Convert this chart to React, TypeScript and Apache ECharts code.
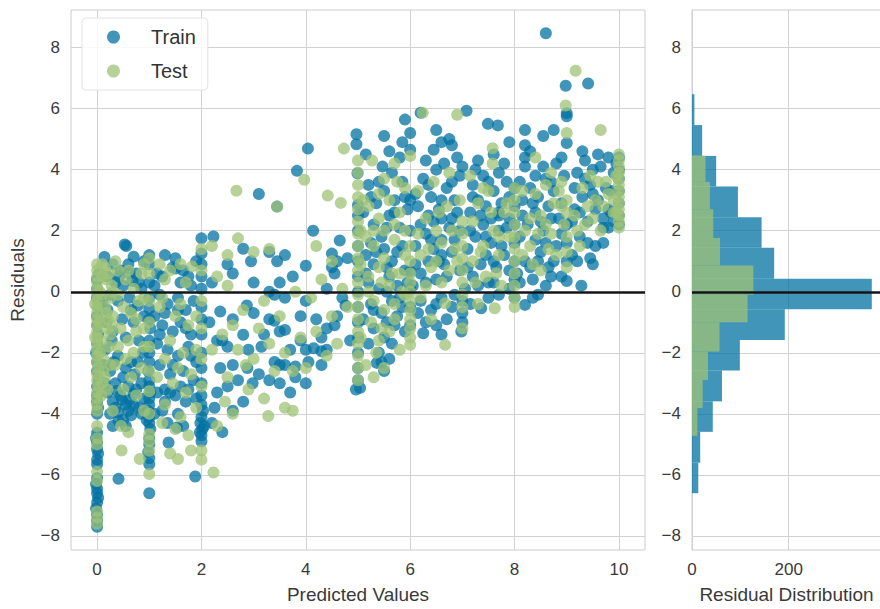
import React, { useEffect, useRef } from "react";
import * as echarts from "echarts";

// ---------- data ----------
const xTicks = [0, 2, 4, 6, 8, 10];
const yTicks = [-8, -6, -4, -2, 0, 2, 4, 6, 8];
const histTicks = [0, 200];

const trainPoints: number[][] = [
  // x = 0 stripe
  [0,-7.7],[0,-7.5],[0,-7.3],[-0.02,-7.1],[0,-6.9],[0.02,-6.75],[0,-6.6],[0,-6.45],[-0.02,-6.3],[0,-6.1],[0,-5.65],[0,-5.5],[0.02,-5.3],[0,-5.15],[0,-4.95],[-0.02,-4.8],[0,-4.62],[0,-4.0],[0.02,-3.8],[0,-3.6],[0,-3.4],[0,-3.1],[0.03,-2.9],[0,-2.6],[0,-2.3],[-0.02,-2.0],[0,-1.7],[0.02,-1.4],[0,-1.1],[0,-0.8],[0.03,-0.5],[0,-0.2],[0,0.1],[0,0.4],[0.04,0.6],
  // 0 < x < 1
  [0.14,1.14],[0.56,1.5],[0.3,0.9],[0.45,0.7],[0.6,0.9],[0.75,0.6],[0.9,1.0],[0.35,0.3],[0.5,0.2],[0.68,0.35],[0.85,0.1],[0.25,-0.1],[0.4,-0.3],[0.62,-0.2],[0.78,-0.45],[0.2,-0.6],[0.48,-0.9],[0.7,-1.0],[0.9,-0.8],[0.3,-1.3],[0.55,-1.5],[0.8,-1.6],[0.15,-1.9],[0.4,-2.1],[0.65,-2.3],[0.88,-2.0],[0.25,-2.6],[0.5,-2.8],[0.72,-2.7],[0.35,-3.0],[0.6,-3.1],[0.85,-3.0],[0.2,-3.3],[0.45,-3.4],[0.7,-3.35],[0.9,-3.5],[0.3,-3.6],[0.55,-3.7],[0.8,-3.8],[0.4,-3.95],[0.65,-4.05],[0.5,-4.2],[0.25,-4.0],[0.95,-4.2],[0.41,-4.23],[0.41,-6.13],[0.62,-3.55],[0.75,-3.2],[0.38,-3.25],
  [0.1,-0.3],[0.18,-1.0],[0.28,-1.6],[0.12,-2.4],[0.32,-2.3],[0.55,-2.5],[0.78,-2.3],[0.35,-3.8],[0.6,-3.9],[0.85,-4.0],[0.48,-3.55],[0.7,-3.7],[0.55,-4.4],[0.3,-4.4],[0.15,-3.0],[0.65,-0.6],[0.42,0.5],[0.7,1.15],[0.2,0.5],[0.62,0.6],[0.8,0.3],
  // x = 1 stripe
  [1,-6.6],[1,-5.65],[1,-5.45],[0.98,-5.25],[1,-5.0],[1,-4.8],[1.02,-4.5],[1,-4.3],[1,-4.1],[0.98,-3.9],[1,-3.7],[1,-3.5],[1.02,-3.3],[1,-3.1],[1,-2.9],[0.98,-2.6],[1,-2.3],[1,-2.0],[1,-1.6],[1.02,-1.2],[1,-0.9],[1,-0.55],[1,-0.2],[1,0.3],[1,0.9],[1.0,1.2],
  // 1 < x < 2
  [1.15,0.6],[1.3,1.2],[1.45,0.8],[1.6,0.3],[1.75,0.5],[1.9,1.0],[1.2,-0.1],[1.35,-0.4],[1.55,-0.2],[1.7,-0.6],[1.85,-0.3],[1.1,-0.8],[1.25,-1.1],[1.45,-1.3],[1.6,-1.0],[1.8,-1.4],[1.15,-1.7],[1.35,-1.9],[1.55,-2.1],[1.75,-1.8],[1.9,-2.3],[1.2,-2.4],[1.4,-2.7],[1.65,-2.6],[1.85,-2.9],[1.3,-3.2],[1.4,-3.3],[1.5,-3.4],[1.7,-3.6],[1.55,-4.0],[1.35,-4.3],[1.53,-4.45],[1.37,-4.94],[1.51,0.76],[0.53,1.55],
  [1.1,0.2],[1.25,0.5],[1.5,1.1],[1.65,0.7],[1.8,0.2],[1.3,-0.7],[1.55,-0.6],[1.7,-1.2],[1.2,-1.4],[1.45,-2.4],[1.8,-2.1],[1.15,-3.3],[1.3,-3.6],[1.6,-3.1],[1.75,-3.2],[1.1,-4.0],[1.25,-3.9],[1.9,-3.5],[1.65,-4.4],
  // x = 2 stripe
  [2,-4.9],[2,-4.7],[2.02,-4.5],[1.98,-4.3],[2,-4.1],[2.03,-3.9],[2,-3.7],[1.97,-4.6],[2.05,-4.4],[2,-3.4],[2,-3.0],[2,-2.5],[2,-2.0],[2,-1.4],[2,-0.9],[2,-0.5],[2,0.1],[2,0.5],[2,0.9],[2,1.25],[2,1.75],[1.88,-6.05],
  // 2 < x < 4
  [2.36,-0.65],[2.3,-1.6],[2.4,-1.6],[2.5,-1.8],[2.36,-2.5],[2.8,-1.41],[2.87,-0.45],[2.6,-2.4],[2.88,-2.5],[2.98,-3.0],[2.5,-3.1],[2.6,-3.9],[2.8,-3.6],[3.3,-0.9],[3.4,-0.95],[3.4,-2.3],[3.5,-2.4],[3.7,-3.3],[3.6,-2.4],[3.8,-2.45],[3.5,-1.3],[3.6,-1.25],[3.9,-0.8],[3.9,-1.6],[4.0,-3.0],[4.05,-2.3],[3.0,0.3],[3.3,0.0],[3.4,-0.1],[2.23,1.81],[2.8,1.41],[3.3,1.3],[3.45,1.0],[3.6,1.2],[4.0,0.85],[4.14,2.0],[3.1,3.2],[3.45,2.79],[3.83,3.96],[4.04,4.69],[3.6,-0.2],[2.2,0.3],[2.6,0.6],[3.15,-1.8],
  [2.15,-1.0],[2.25,-3.8],[2.2,-4.3],[2.4,-4.6],[2.3,-3.3],[2.7,-2.9],[3.1,-2.7],[3.3,-2.9],[2.9,-1.9],[3.2,-1.4],[3.0,-0.7],[2.6,-0.9],[3.7,-1.9],[3.8,-2.8],[3.5,-3.0],[2.5,0.9],[3.75,0.5],[3.5,0.3],[2.95,1.0],
  // 4 < x < 5
  [4.0,-0.3],[4.2,-0.9],[4.3,-1.5],[4.4,-1.2],[4.0,-1.9],[4.15,-1.85],[4.3,-1.95],[4.55,-1.1],[4.6,-0.8],[4.3,-2.4],[4.4,-1.9],[4.76,-0.45],[4.96,-3.2],[4.65,1.68],[4.5,0.8],[4.55,0.6],[4.5,1.25],[4.6,1.0],[4.8,1.1],[4.4,0.1],[4.7,-0.2],[4.85,-1.6],
  // x = 5 stripe
  [4.97,5.16],[4.97,4.83],[4.99,3.88],[5.0,2.84],[5,2.5],[5,2.0],[5,1.5],[5,1.0],[5,0.5],[5,0],[5,-0.5],[5,-1.0],[5,-1.5],[5,-2.0],[5,-2.5],[5,-2.9],[5.04,-3.15],
  // 5 < x < 6
  [5.2,3.5],[5.35,2.9],[5.5,3.3],[5.7,3.0],[5.85,3.6],[5.3,2.2],[5.45,1.8],[5.6,2.5],[5.8,2.1],[5.95,2.7],[5.15,1.2],[5.3,0.9],[5.5,1.4],[5.65,1.0],[5.85,1.5],[5.2,0.3],[5.4,0.1],[5.6,0.5],[5.75,0.2],[5.9,0.7],[5.25,-0.4],[5.45,-0.7],[5.65,-0.3],[5.85,-0.5],[5.3,-1.2],[5.5,-1.5],[5.7,-1.1],[5.9,-1.3],[5.4,-2.0],[5.6,-2.2],[5.36,-2.33],[5.5,-2.6],[5.47,4.1],[5.5,5.1],[5.9,5.64],[5.8,4.4],[5.65,3.9],[5.25,1.6],[5.55,0.0],[5.75,-0.8],
  [5.1,2.6],[5.25,3.1],[5.4,3.6],[5.55,2.1],[5.7,2.6],[5.9,3.1],[5.15,0.6],[5.35,1.3],[5.55,0.8],[5.75,1.3],[5.95,0.3],[5.1,-0.9],[5.3,-0.6],[5.55,-1.0],[5.8,-0.2],[5.2,-1.7],[5.45,-2.3],[5.65,-1.7],[5.15,4.5],[5.6,4.6],[5.85,4.9],
  // x = 6 stripe
  [6,0.66],[6,0.1],[6,-0.5],[6,-1.1],[6,2.0],[6,3.0],[6.0,5.2],[6.0,4.65],
  // 6 < x < 7
  [6.05,0.2],[6.2,0.6],[6.35,1.0],[6.5,0.4],[6.65,0.9],[6.8,1.3],[6.1,1.5],[6.3,1.9],[6.45,2.3],[6.6,1.7],[6.75,2.1],[6.9,2.6],[6.15,2.8],[6.4,3.1],[6.55,2.7],[6.7,3.4],[6.85,3.0],[6.25,3.7],[6.5,4.0],[6.95,3.8],[6.2,-0.3],[6.4,-0.6],[6.6,-0.2],[6.8,-0.5],[6.3,-1.0],[6.5,-1.1],[6.7,-0.9],[6.25,-1.36],[6.2,5.86],[6.5,5.3],[6.6,4.9],[6.75,5.0],[6.8,4.8],[6.45,4.65],[6.35,2.5],[6.6,1.2],
  [6.1,0.9],[6.3,0.3],[6.45,1.4],[6.55,1.0],[6.7,0.5],[6.85,1.7],[6.95,0.7],[6.2,2.2],[6.4,1.7],[6.6,2.4],[6.8,2.4],[6.95,2.0],[6.1,3.2],[6.35,3.5],[6.6,3.0],[6.8,3.6],[6.3,4.3],[6.65,4.2],[6.9,4.4],[6.15,-0.7],[6.5,-0.4],[6.85,-0.1],[6.6,-1.4],
  // x = 7 stripe and 7 < x < 8
  [7.0,-0.3],[7.0,-0.7],[7.0,-1.0],[6.98,-1.3],[7.05,0.1],[7.2,0.5],[7.35,0.9],[7.5,0.3],[7.65,0.8],[7.8,1.2],[7.1,1.4],[7.25,1.8],[7.4,2.2],[7.55,1.6],[7.7,2.0],[7.9,2.4],[7.15,2.6],[7.3,3.0],[7.45,2.8],[7.6,3.3],[7.75,2.9],[7.2,3.5],[7.4,3.8],[7.85,3.6],[7.08,5.93],[7.49,5.5],[7.68,5.45],[7.9,4.9],[7.0,4.1],[7.3,4.3],[7.36,-0.54],[7.6,0.3],[7.5,-0.2],[7.45,1.2],[7.7,2.5],
  [7.1,0.8],[7.3,0.2],[7.45,1.8],[7.6,1.0],[7.75,1.5],[7.9,0.7],[7.15,2.0],[7.35,2.5],[7.55,2.4],[7.7,2.6],[7.85,2.1],[7.2,3.1],[7.5,3.6],[7.7,3.9],[7.9,3.1],[7.25,4.0],[7.6,4.5],[7.8,4.2],[7.15,-0.4],[7.7,-0.1],[7.9,0.1],
  // x = 8 stripe and 8 < x < 9
  [8,3.4],[8,2.8],[8,2.2],[8,1.6],[8,1.0],[8,0.4],[8,-0.2],
  [8.05,0.6],[8.2,1.0],[8.35,0.4],[8.5,1.3],[8.65,0.8],[8.8,1.5],[8.1,1.8],[8.25,2.2],[8.4,2.6],[8.55,2.0],[8.7,2.4],[8.9,2.9],[8.15,3.0],[8.3,3.4],[8.45,3.1],[8.6,3.7],[8.75,3.3],[8.95,3.8],[8.2,4.4],[8.2,4.8],[8.2,4.1],[8.2,-0.43],[8.35,-0.2],[8.6,0.2],[8.9,0.5],[8.2,5.3],[8.6,8.47],[8.75,5.3],[8.8,4.2],[8.4,1.7],
  [8.1,0.3],[8.3,0.8],[8.45,1.0],[8.6,1.6],[8.75,1.0],[8.9,1.9],[8.15,2.5],[8.35,2.9],[8.5,2.3],[8.65,2.8],[8.85,2.4],[8.1,3.6],[8.4,3.8],[8.55,4.1],[8.7,3.6],[8.9,4.4],[8.3,4.6],[8.45,-0.1],[8.7,0.5],[8.55,5.1],
  // x = 9 stripe and 9 < x < 10
  [8.98,6.75],[9.0,5.85],[9.0,5.75],[9.0,4.87],[9.0,0.35],[9.0,1.0],[9.0,1.6],[9.0,2.2],
  [9.1,1.2],[9.25,1.8],[9.4,2.3],[9.55,1.5],[9.7,2.1],[9.85,2.6],[9.15,2.7],[9.3,3.1],[9.45,3.5],[9.6,3.0],[9.75,3.4],[9.9,3.9],[9.2,3.9],[9.35,4.3],[9.5,4.0],[9.41,6.82],[9.28,0.2],[9.5,0.9],[9.8,4.4],[9.8,2.7],[9.8,2.1],
  [9.1,2.3],[9.25,2.6],[9.4,1.6],[9.55,2.7],[9.7,1.6],[9.9,2.3],[9.15,3.4],[9.35,3.7],[9.5,3.2],[9.65,4.1],[9.85,3.3],[9.3,4.6],[9.6,4.5],[9.2,1.0],[9.45,1.1],[9.7,2.4],[9.95,4.2],
  // x = 10 stripe
  [10,2.5],[10,3.3],[10,4.0],[10,2.2],[10,3.7],[10,4.4],[10,2.9]
];

const testPoints: number[][] = [
  // x = 0 stripe
  [0,-7.6],[0,-7.4],[0,-7.2],[0,-6.2],[0,-5.9],[0,-5.0],[0,-4.8],[0,-4.4],[0,-3.9],[0,-3.7],[0,-3.5],[0,-3.3],[0.02,-3.1],[0,-2.9],[0,-2.7],[0.02,-2.5],[0,-2.3],[0,-2.1],[0,-1.9],[0,-1.7],[0,-1.5],[0,-1.3],[0,-1.1],[0,-0.9],[0,-0.7],[0,-0.5],[0,-0.3],[0,-0.1],[0,0.1],[0,0.3],[0,0.5],[0,0.7],[0,0.9],[0.05,-2.0],[0.05,-1.0],[0.05,0.0],[-0.04,-1.5],[-0.04,-0.4],
  [0.15,-0.5],[0.2,-1.2],[0.25,-0.2],[0.18,0.4],[0.3,-0.8],[0.12,-2.2],[0.22,-1.8],[0.28,0.2],[0.1,-3.0],[0.15,0.8],[0.12,-2.6],[0.2,-0.9],
  [0.1,-0.1],[0.18,-0.7],[0.25,-1.4],[0.08,-1.6],[0.3,0.0],[0.22,0.6],[0.1,0.5],[0.28,-1.1],[0.15,-2.8],[0.25,-2.4],[0.08,-3.4],[0.2,-3.2],[0.1,0.9],
  // 0 < x < 1
  [0.4,0.7],[0.55,0.4],[0.7,0.1],[0.85,0.6],[0.5,-0.5],[0.65,-0.7],[0.8,-0.3],[0.45,-1.2],[0.6,-1.6],[0.75,-1.3],[0.9,-1.8],[0.35,-2.4],[0.7,-2.0],[0.85,-2.5],[0.5,-3.2],[0.75,-3.4],[0.46,-4.4],[0.47,-5.2],[0.82,-5.48],[0.3,-3.9],[0.6,-4.6],[0.9,-3.9],
  [0.4,-0.1],[0.6,0.7],[0.75,-0.9],[0.55,-2.2],[0.9,-1.2],[0.4,-1.8],[0.65,-2.8],[0.9,-0.2],[0.35,1.0],[0.9,0.9],
  // x = 1 stripe
  [1,1.1],[1,0.6],[1,-0.3],[1,-1.0],[1,-1.8],[1,-2.6],[1,-3.26],[1,-4.0],[1,-4.67],[1,-5.21],[1,-5.97],[1,-4.9],
  // 1 < x < 2
  [1.3,0.4],[1.6,0.9],[1.82,0.83],[1.2,-0.5],[1.5,-0.8],[1.75,-1.1],[1.4,-1.6],[1.65,-2.0],[1.3,-2.2],[1.55,-2.5],[1.8,-2.7],[1.45,-3.0],[1.7,-3.3],[1.3,-3.7],[1.6,-4.1],[1.9,-3.8],[1.5,-4.5],[1.8,-5.2],[1.55,-5.48],
  [1.2,0.9],[1.4,0.7],[1.7,0.3],[1.25,-0.2],[1.6,-0.4],[1.9,-0.8],[1.15,-2.8],[1.9,-1.9],[1.25,-4.3],[1.4,-5.3],[1.75,-4.7],
  // x = 2 stripe
  [2,1.4],[2,0.7],[2,-0.3],[2,-1.2],[2,-2.2],[2,-3.1],[2,-5.2],[2,-5.5],[2.23,-5.92],
  // 2 < x < 4
  [2.67,3.31],[2.7,1.75],[3.3,1.4],[3.0,1.3],[2.3,0.5],[2.5,0.2],[2.8,-0.6],[3.2,-0.3],[3.5,-0.8],[3.8,0.0],[2.4,-1.4],[2.7,-1.9],[3.0,-2.2],[3.3,-1.7],[3.6,-2.0],[3.9,-1.5],[2.5,-2.8],[2.9,-3.2],[3.2,-3.5],[3.6,-3.8],[2.6,-4.0],[2.3,-4.4],[2.45,-3.6],[3.75,-3.9],[3.28,-4.07],[3.97,3.67],[3.45,2.79],
  [2.2,1.5],[2.5,1.2],[2.2,-1.9],[2.6,-1.1],[2.85,-2.4],[3.1,-1.2],[3.4,-2.6],[3.75,-2.6],
  // 4 < x < 5
  [4.73,4.69],[4.42,3.15],[4.67,2.91],[4.1,-0.2],[4.3,0.4],[4.5,-0.8],[4.7,0.1],[4.2,-1.3],[4.6,-1.7],[4.4,-2.1],[4.0,-2.5],[4.8,-0.5],[4.5,1.0],[4.2,1.5],
  // x = 5 stripe
  [5,4.3],[5,3.9],[5,3.5],[5,3.1],[5,2.7],[5,2.3],[5,1.9],[5,1.5],[5,1.1],[5,0.7],[5,0.3],[5,-0.1],[5,-0.5],[5,-0.9],[5,-1.3],[5,-1.7],[5,-2.1],[5,-2.5],[5,-2.9],[5.05,0.9],[5.05,-1.5],[5.05,2.0],
  // 5 < x < 6
  [5.27,4.3],[5.2,2.8],[5.4,2.4],[5.6,3.0],[5.8,2.6],[5.3,1.5],[5.5,1.1],[5.7,1.7],[5.9,1.2],[5.2,0.5],[5.4,0.8],[5.6,0.2],[5.8,0.6],[5.3,-0.3],[5.5,-0.6],[5.7,-0.9],[5.9,-0.1],[5.4,-1.6],[5.6,-1.3],[5.35,-2.0],[5.8,-1.9],[5.3,-2.8],[5.9,3.4],[5.5,3.7],[5.7,4.2],[5.1,3.0],
  [5.15,1.8],[5.3,2.0],[5.5,2.0],[5.7,2.2],[5.9,2.0],[5.2,0.0],[5.45,0.3],[5.65,0.6],[5.85,0.0],[5.25,-1.0],[5.45,-1.2],[5.7,-0.4],[5.15,-2.4],[5.5,-2.5],[5.4,3.2],[5.75,3.6],
  // x = 6 stripe
  [6,0.6],[6,0.3],[6,0],[6,-0.3],[6,-0.6],[6,-0.9],[6,-1.2],[6,-1.5],[6,-1.74],[6,4.45],[6,1.0],[6,1.5],
  // 6 < x < 7
  [6.24,5.86],[6.9,5.8],[6.2,1.2],[6.4,0.8],[6.6,1.6],[6.8,2.0],[6.3,2.4],[6.5,2.0],[6.7,2.8],[6.9,1.0],[6.15,3.3],[6.45,3.6],[6.75,3.9],[6.6,0.3],[6.67,-0.38],[6.67,-1.74],[6.4,-0.9],[6.2,-0.2],
  [6.15,1.9],[6.35,1.4],[6.55,2.6],[6.85,1.4],[6.3,0.2],[6.5,1.0],[6.75,0.7],[6.95,3.0],
  // x = 7 stripe and 7 < x < 8
  [7,2.3],[7,1.9],[7,1.5],[7,1.1],[7,0.7],[7,0.3],[7,-0.1],[7,-0.5],[7,-1.2],[7.3,-0.4],[7.62,-0.54],
  [7.58,4.7],[7.58,4.2],[7.2,1.0],[7.4,1.5],[7.6,2.0],[7.8,2.6],[7.3,2.9],[7.5,3.3],[7.7,1.2],[7.9,1.8],[7.15,3.8],[7.45,0.5],[7.75,0.2],
  [7.2,2.3],[7.35,1.3],[7.55,2.6],[7.7,1.8],[7.85,2.9],[7.25,0.3],[7.65,0.6],[7.4,3.4],
  // x = 8 stripe and 8 < x < 9
  [8,3.4],[8,3.0],[8,2.6],[8,2.2],[8,1.8],[8,1.4],[8,1.0],[8,0.6],[8,0.2],[8,-0.2],[8,-0.5],
  [8.4,4.4],[8.7,3.9],[8.3,1.5],[8.5,2.5],[8.7,1.9],[8.9,2.8],[8.4,3.2],[8.6,3.5],[8.2,2.0],[8.8,1.2],[8.5,0.7],[8.9,3.6],
  [8.15,1.2],[8.3,2.4],[8.45,1.9],[8.6,2.2],[8.75,2.9],[8.15,3.3],[8.35,0.9],[8.65,1.4],[8.85,3.3],[8.95,2.2],
  // x = 9 stripe and 9 < x < 10
  [8.98,6.1],[9.0,5.2],[9,3.0],[9,2.6],[9,1.8],[9,1.3],[9,0.8],
  [9.17,7.24],[9.65,5.3],[9.2,2.0],[9.4,2.8],[9.6,3.6],[9.8,3.2],[9.3,3.4],[9.5,2.4],[9.7,2.8],[9.9,3.0],
  [9.15,2.5],[9.35,2.2],[9.55,3.0],[9.75,3.6],[9.9,2.6],[9.25,1.5],[9.45,3.8],[9.65,2.0],
  // x = 10 stripe
  [10,4.5],[10,4.3],[10,4.1],[10,3.9],[10,3.7],[10,3.5],[10,3.3],[10,3.1],[10,2.9],[10,2.7],[10,2.5],[10,2.3],[10,2.1],[9.95,3.8],[9.95,2.6]
];

// histogram bins (residual edges) and counts
const trainBinEdges = [-6.6, -5.6, -4.59, -3.59, -2.58, -1.58, -0.57, 0.43, 1.44, 2.44, 3.45, 4.45, 5.46, 6.47];
const trainCounts = [13, 17, 43, 62, 99, 192, 372, 170, 144, 95, 50, 21, 5];
const testBinEdges = [-4.72, -3.81, -2.89, -1.96, -1.0, -0.1, 0.86, 1.76, 2.7, 3.6, 4.46];
const testCounts = [11, 22, 33, 57, 115, 127, 58, 44, 37, 28];

// ---------- styling ----------
const TRAIN_COLOR = "#0272a2";
const TEST_COLOR = "#9fc377";
const FONT = "'Liberation Sans', Arial, sans-serif";
const LABEL_COLOR = "#3a3a3a";
const GRID_COLOR = "#d2d2d2";

const fmt = (v: number) => (v < 0 ? "\u2212" + Math.abs(v) : String(v));

function binsToData(edges: number[], counts: number[]) {
  return counts.map((c, i) => [edges[i], edges[i + 1], c]);
}

export default function App() {
  const ref = useRef<HTMLDivElement>(null);

  useEffect(() => {
    if (!ref.current) return;
    const chart = echarts.init(ref.current, undefined, { renderer: "svg" });

    const yAxisCommon = (gridIndex: number) => ({
      type: "value",
      gridIndex,
      min: -8.46,
      max: 9.23,
      axisLine: { show: false },
      axisTick: { show: false, customValues: yTicks },
      axisLabel: {
        customValues: yTicks,
        formatter: fmt,
        color: LABEL_COLOR,
        fontSize: 17,
        fontFamily: FONT,
        margin: 11,
      },
      splitLine: { show: true, lineStyle: { color: GRID_COLOR, width: 1 } },
    });

    const histRender = (color: string) => (params: any, api: any) => {
      const lo = api.value(0);
      const hi = api.value(1);
      const c = api.value(2);
      const p1 = api.coord([0, hi]);
      const p2 = api.coord([c, lo]);
      return {
        type: "rect",
        shape: { x: p1[0], y: p1[1], width: p2[0] - p1[0], height: p2[1] - p1[1] },
        style: { fill: color, opacity: 0.75 },
      };
    };

    const zeroLine = {
      silent: true,
      symbol: "none",
      label: { show: false },
      lineStyle: { color: "#151515", width: 2.6, type: "solid" },
      data: [{ yAxis: 0 }],
    };

    const xName = { fontSize: 19, color: LABEL_COLOR, fontFamily: FONT };

    chart.setOption({
      animation: false,
      backgroundColor: "#ffffff",
      textStyle: { fontFamily: FONT },
      grid: [
        { left: 71, top: 10, width: 574, height: 543, show: true, borderColor: "#cccccc", borderWidth: 1 },
        { left: 692, top: 10, width: 189, height: 543, show: true, borderColor: "#cccccc", borderWidth: 1 },
      ],
      legend: {
        data: ["Train", "Test"],
        orient: "vertical",
        left: 82,
        top: 18,
        padding: [7, 12, 7, 25],
        itemGap: 10,
        itemWidth: 13,
        itemHeight: 13,
        icon: "circle",
        borderColor: "#e2e2e2",
        borderWidth: 1,
        borderRadius: 4,
        backgroundColor: "rgba(255,255,255,0.85)",
        textStyle: {
          fontSize: 20,
          lineHeight: 24,
          color: "#333333",
          fontFamily: FONT,
          padding: [0, 0, 0, 26],
        },
      },
      xAxis: [
        {
          type: "value",
          gridIndex: 0,
          min: -0.5,
          max: 10.5,
          name: "Predicted Values",
          nameLocation: "middle",
          nameGap: 35,
          nameTextStyle: xName,
          axisLine: { show: false },
          axisTick: { show: false, customValues: xTicks },
          axisLabel: { customValues: xTicks, formatter: fmt, color: LABEL_COLOR, fontSize: 17, fontFamily: FONT, margin: 11 },
          splitLine: { show: true, lineStyle: { color: GRID_COLOR, width: 1 } },
        },
        {
          type: "value",
          gridIndex: 1,
          min: 0,
          max: 391,
          name: "Residual Distribution",
          nameLocation: "middle",
          nameGap: 35,
          nameTextStyle: xName,
          axisLine: { show: false },
          axisTick: { show: false, customValues: histTicks },
          axisLabel: { customValues: histTicks, color: LABEL_COLOR, fontSize: 17, fontFamily: FONT, margin: 11 },
          splitLine: { show: true, lineStyle: { color: GRID_COLOR, width: 1 } },
        },
      ],
      yAxis: [
        {
          ...yAxisCommon(0),
          name: "Residuals",
          nameLocation: "middle",
          nameGap: 44,
          nameTextStyle: xName,
        },
        { ...yAxisCommon(1) },
      ],
      series: [
        {
          name: "Train",
          type: "scatter",
          xAxisIndex: 0,
          yAxisIndex: 0,
          data: trainPoints,
          symbolSize: 12,
          itemStyle: { color: TRAIN_COLOR, opacity: 0.75 },
          z: 2,
        },
        {
          name: "Test",
          type: "scatter",
          xAxisIndex: 0,
          yAxisIndex: 0,
          data: testPoints,
          symbolSize: 12,
          itemStyle: { color: TEST_COLOR, opacity: 0.75 },
          z: 3,
        },
        {
          name: "zero-main",
          type: "scatter",
          xAxisIndex: 0,
          yAxisIndex: 0,
          data: [],
          z: 5,
          markLine: zeroLine,
        },
        {
          name: "Train hist",
          type: "custom",
          xAxisIndex: 1,
          yAxisIndex: 1,
          data: binsToData(trainBinEdges, trainCounts),
          encode: { x: 2, y: [0, 1] },
          renderItem: histRender(TRAIN_COLOR),
          z: 2,
        },
        {
          name: "Test hist",
          type: "custom",
          xAxisIndex: 1,
          yAxisIndex: 1,
          data: binsToData(testBinEdges, testCounts),
          encode: { x: 2, y: [0, 1] },
          renderItem: histRender(TEST_COLOR),
          z: 3,
        },
        {
          name: "zero-hist",
          type: "scatter",
          xAxisIndex: 1,
          yAxisIndex: 1,
          data: [],
          z: 5,
          markLine: zeroLine,
        },
      ],
    });

    return () => chart.dispose();
  }, []);

  return (
    <div style={{ position: "fixed", left: 0, top: 0, width: 880, height: 609, overflow: "hidden", background: "#fff" }}>
      <div ref={ref} style={{ width: 882, height: 609 }} />
    </div>
  );
}
